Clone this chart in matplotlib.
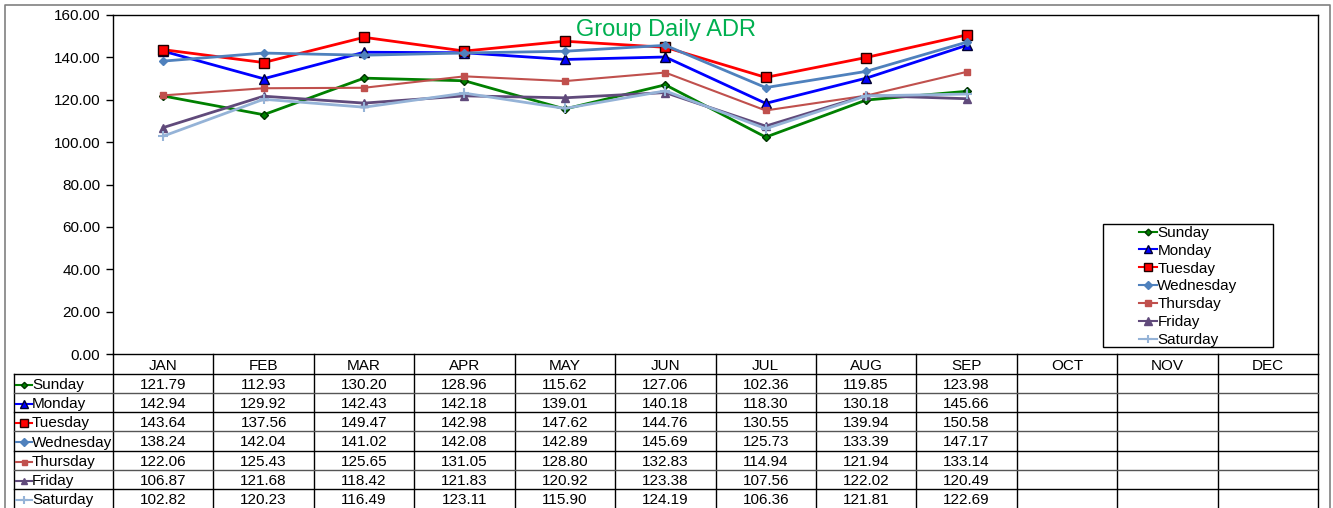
import matplotlib
matplotlib.use("Agg")
import matplotlib.pyplot as plt
from matplotlib.lines import Line2D
from matplotlib.patches import Rectangle
from matplotlib.transforms import blended_transform_factory

plt.rcParams['font.family'] = ['Liberation Sans', 'DejaVu Sans']

# chart data
months = ["JAN", "FEB", "MAR", "APR", "MAY", "JUN", "JUL", "AUG", "SEP", "OCT", "NOV", "DEC"]
days = ["Sunday", "Monday", "Tuesday", "Wednesday", "Thursday", "Friday", "Saturday"]
sunday = [121.79, 112.93, 130.20, 128.96, 115.62, 127.06, 102.36, 119.85, 123.98]
monday = [142.94, 129.92, 142.43, 142.18, 139.01, 140.18, 118.30, 130.18, 145.66]
tuesday = [143.64, 137.56, 149.47, 142.98, 147.62, 144.76, 130.55, 139.94, 150.58]
wednesday = [138.24, 142.04, 141.02, 142.08, 142.89, 145.69, 125.73, 133.39, 147.17]
thursday = [122.06, 125.43, 125.65, 131.05, 128.80, 132.83, 114.94, 121.94, 133.14]
friday = [106.87, 121.68, 118.42, 121.83, 120.92, 123.38, 107.56, 122.02, 120.49]
saturday = [102.82, 120.23, 116.49, 123.11, 115.90, 124.19, 106.36, 121.81, 122.69]
series = [sunday, monday, tuesday, wednesday, thursday, friday, saturday]

# line styles per day
styles = [
    dict(color="#008000", marker="D", ms=4, mfc="#008000", mec="#003300", lw=2),
    dict(color="#0000FF", marker="^", ms=6.5, mfc="#0000FF", mec="#000033", lw=2),
    dict(color="#FF0000", marker="s", ms=6.5, mfc="#FF0000", mec="#200000", lw=2),
    dict(color="#4F81BD", marker="D", ms=4.5, mfc="#4F81BD", mec="#4F81BD", lw=2),
    dict(color="#C0504D", marker="s", ms=4.5, mfc="#C0504D", mec="#C0504D", lw=1.5),
    dict(color="#604A7B", marker="^", ms=6, mfc="#604A7B", mec="#604A7B", lw=2),
    dict(color="#95B3D7", marker="+", ms=7, mfc="#95B3D7", mec="#95B3D7", lw=2, mew=1.5),
]

W, H = 1333, 508
fig = plt.figure(figsize=(W / 100, H / 100), dpi=100)

# pixel overlay for frame and table
ov = fig.add_axes([0, 0, 1, 1])
ov.set_xlim(0, W)
ov.set_ylim(H, 0)
ov.axis("off")

left, right, top, bottom = 113, 1318, 15, 354
ax = fig.add_axes([left / W, (H - bottom) / H, (right - left) / W, (bottom - top) / H])
ax.set_xlim(-0.5, len(months) - 0.5)
ax.set_ylim(0, 160)
ax.set_yticks(range(0, 161, 20))
ax.set_yticklabels(["%.2f" % v for v in range(0, 161, 20)], fontsize=11)
ax.set_xticks([])
ax.tick_params(axis="y", direction="out", length=5, width=1, pad=4)
for s in ax.spines.values():
    s.set_linewidth(1)
ax.patch.set_alpha(0)

for name, vals, st in zip(days, series, styles):
    ax.plot(range(len(vals)), vals, label=name, **st)

# legend with Excel-like box
ov.add_patch(Rectangle((1103, 224), 170, 123, fill=False, ec="black", lw=1))
leg = ax.legend(loc="upper left", bbox_to_anchor=(1139 / W, (H - 226) / H),
                bbox_transform=fig.transFigure, frameon=False, fontsize=11,
                handlelength=1.15, handletextpad=0.05, labelspacing=0.25,
                borderaxespad=0, borderpad=0)
for h in leg.legend_handles:
    h.set_linewidth(1.5)
    h.set_markersize(h.get_markersize() * 0.85)

fig.text(666 / W, (H - 30) / H, "Group Daily ADR", color="#00B050",
         fontsize=17, ha="center", va="center")

# outer chart border
ov.plot([5, 5, 1330, 1330], [H, 5, 5, H], color="#808080", lw=1.2)

# data table
tr = blended_transform_factory(ax.transData, ov.transData)
row_y = [354, 374, 393, 412, 431, 451, 470, 489, 508]
for i in range(len(months) + 1):
    x = i - 0.5
    ov.plot([x, x], [row_y[0], H], color="black", lw=1, transform=tr)
ov.plot([14, 14], [row_y[1], H], color="black", lw=1)
for j, y in enumerate(row_y[1:-1]):
    ov.plot([14, right], [y, y], color="#555555" if j % 2 else "black", lw=1)
for i, m in enumerate(months):
    ov.text(i, (row_y[0] + row_y[1]) / 2 + 1.5, m, ha="center", va="center",
            fontsize=11, transform=tr)
for r, (name, vals, st) in enumerate(zip(days, series, styles)):
    yc = (row_y[r + 1] + row_y[r + 2]) / 2 + 1
    ov.add_line(Line2D([16, 32], [yc, yc], color=st["color"], lw=1.5))
    ov.plot([24], [yc], marker=st["marker"], ms=st["ms"] * 0.8, mfc=st["mfc"],
            mec=st["mec"], ls="none", mew=st.get("mew", 1))
    ov.text(32, yc + 0.5, name, ha="left", va="center", fontsize=11)
    for i, v in enumerate(vals):
        ov.text(i, yc + 0.5, "%.2f" % v, ha="center", va="center", fontsize=11, transform=tr)

fig.savefig("out.png", dpi=100)
